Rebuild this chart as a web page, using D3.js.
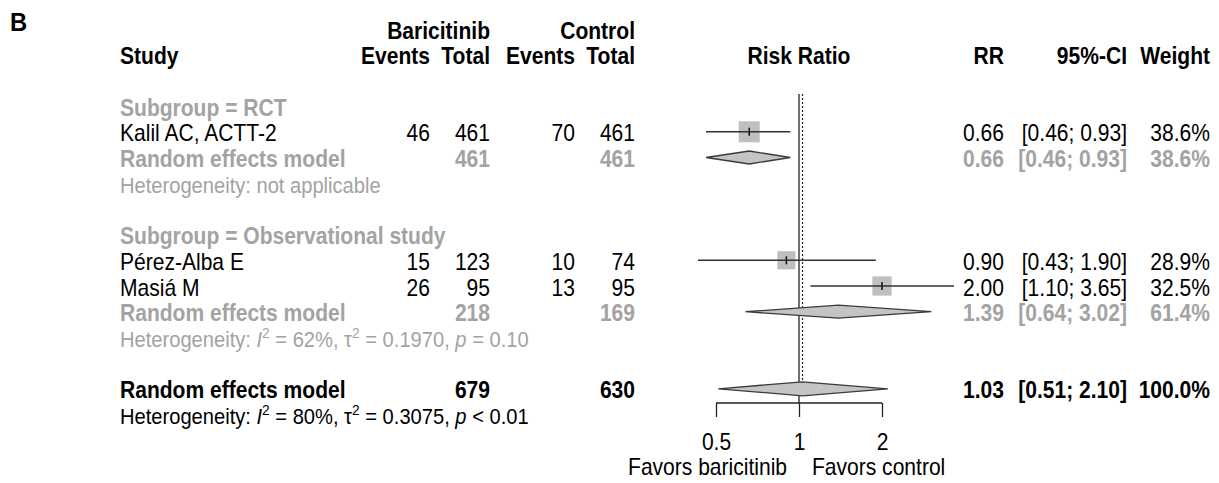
<!DOCTYPE html>
<html>
<head>
<meta charset="utf-8">
<script src="https://cdn.jsdelivr.net/npm/d3@7"></script>
<style>
  body { margin: 0; background: #fff; }
  svg { display: block; font-family: "Liberation Sans", Arial, sans-serif; }
</style>
</head>
<body>
<svg></svg>
<script>
const width = 1219;
const height = 483;

// study level data
const studies = ["Kalil AC, ACTT-2", "Pérez-Alba E", "Masiá M"];
const studyRow = [4, 9, 10];
const eventsBari = [46, 15, 26];
const totalBari = [461, 123, 95];
const eventsCtrl = [70, 10, 13];
const totalCtrl = [461, 74, 95];
const rr = [0.66, 0.90, 2.00];
const lower = [0.46, 0.43, 1.10];
const upper = [0.93, 1.90, 3.65];
const weight = [38.6, 28.9, 32.5];

// pooled estimates (two subgroups + overall)
const poolLabel = ["Random effects model", "Random effects model", "Random effects model"];
const poolRow = [5, 11, 14];
const poolTotalBari = [461, 218, 679];
const poolTotalCtrl = [461, 169, 630];
const poolRR = [0.66, 1.39, 1.03];
const poolLower = [0.46, 0.64, 0.51];
const poolUpper = [0.93, 3.02, 2.10];
const poolWeight = [38.6, 61.4, 100.0];
const poolOverall = [false, false, true];

const subgroups = ["Subgroup = RCT", "Subgroup = Observational study"];
const subgroupRow = [3, 8];

// heterogeneity
const hetRow = [6, 12, 15];
const hetI2 = [null, "62%", "80%"];
const hetTau2 = [null, "0.1970", "0.3075"];
const hetP = [null, "= 0.10", "< 0.01"];

const axisTicks = [0.5, 1, 2];

const grey = "#a3a3a3";
const fs = 23;
const squeeze = 0.915;   // the original text is a bit narrow

const svg = d3.select('svg').attr('width', width).attr('height', height);

const x = d3.scaleLog().domain([0.5, 2]).range([716, 882]);
const rowY = d3.scaleLinear().domain([0, 15]).range([29, 29 + 15 * 25.7]);
const base = i => rowY(i) + 9.5;

const f2 = d3.format(".2f");
const f1 = d3.format(".1f");

const col = { study: 120, evB: 430, totB: 490, evC: 575, totC: 635, rr: 1004, ci: 1127, w: 1210 };

function txt(xp, y, s, opts = {}) {
    return svg.append("text")
        .attr("transform", `translate(${xp},${y}) scale(${squeeze},1)`)
        .attr("text-anchor", opts.anchor || "start")
        .attr("font-size", opts.size || fs)
        .attr("font-weight", opts.bold ? "bold" : "normal")
        .attr("fill", opts.color || "#000")
        .text(s);
}

// panel letter
txt(10, 31, "B", { bold: true, size: 26 });

// headers
txt(col.totB, base(0), "Baricitinib", { bold: true, anchor: "end" });
txt(col.totC, base(0), "Control", { bold: true, anchor: "end" });
txt(col.study, base(1), "Study", { bold: true });
txt(col.evB, base(1), "Events", { bold: true, anchor: "end" });
txt(col.totB, base(1), "Total", { bold: true, anchor: "end" });
txt(col.evC, base(1), "Events", { bold: true, anchor: "end" });
txt(col.totC, base(1), "Total", { bold: true, anchor: "end" });
txt(x(1), base(1), "Risk Ratio", { bold: true, anchor: "middle" });
txt(col.rr, base(1), "RR", { bold: true, anchor: "end" });
txt(col.ci, base(1), "95%-CI", { bold: true, anchor: "end" });
txt(col.w, base(1), "Weight", { bold: true, anchor: "end" });

// subgroup labels
subgroups.forEach((s, i) => txt(col.study, base(subgroupRow[i]), s, { bold: true, color: grey }));

// reference lines: no effect (solid) and overall estimate (dotted)
const topY = 94;
svg.append("line")
    .attr("x1", x(1)).attr("x2", x(1))
    .attr("y1", topY).attr("y2", 403)
    .attr("stroke", "#222").attr("stroke-width", 1.3);
svg.append("line")
    .attr("x1", x(poolRR[2])).attr("x2", x(poolRR[2]))
    .attr("y1", topY).attr("y2", rowY(poolRow[2]) - 6)
    .attr("stroke", "#222").attr("stroke-width", 1.2)
    .attr("stroke-dasharray", "2,2");

// study rows
studies.forEach((s, i) => {
    const y = rowY(studyRow[i]);
    const b = base(studyRow[i]);
    txt(col.study, b, s);
    txt(col.evB, b, eventsBari[i], { anchor: "end" });
    txt(col.totB, b, totalBari[i], { anchor: "end" });
    txt(col.evC, b, eventsCtrl[i], { anchor: "end" });
    txt(col.totC, b, totalCtrl[i], { anchor: "end" });
    txt(col.rr, b, f2(rr[i]), { anchor: "end" });
    txt(col.ci, b, "[" + f2(lower[i]) + "; " + f2(upper[i]) + "]", { anchor: "end" });
    txt(col.w, b, f1(weight[i]) + "%", { anchor: "end" });

    const sz = 3.38 * Math.sqrt(weight[i]);
    svg.append("rect")
        .attr("x", x(rr[i]) - sz / 2).attr("y", y - sz / 2)
        .attr("width", sz).attr("height", sz)
        .attr("fill", "#bfbfbf");
    svg.append("line")
        .attr("x1", x(lower[i])).attr("x2", x(upper[i]))
        .attr("y1", y).attr("y2", y)
        .attr("stroke", "#333").attr("stroke-width", 1.5);
    svg.append("line")
        .attr("x1", x(rr[i])).attr("x2", x(rr[i]))
        .attr("y1", y - 4).attr("y2", y + 4)
        .attr("stroke", "#111").attr("stroke-width", 1.5);
});

// pooled rows
poolLabel.forEach((s, i) => {
    const y = rowY(poolRow[i]);
    const b = base(poolRow[i]);
    const c = poolOverall[i] ? "#000" : grey;
    txt(col.study, b, s, { bold: true, color: c });
    txt(col.totB, b, poolTotalBari[i], { bold: true, anchor: "end", color: c });
    txt(col.totC, b, poolTotalCtrl[i], { bold: true, anchor: "end", color: c });
    txt(col.rr, b, f2(poolRR[i]), { bold: true, anchor: "end", color: c });
    txt(col.ci, b, "[" + f2(poolLower[i]) + "; " + f2(poolUpper[i]) + "]", { bold: true, anchor: "end", color: c });
    txt(col.w, b, f1(poolWeight[i]) + "%", { bold: true, anchor: "end", color: c });

    const h = poolOverall[i] ? 7 : 6.5;
    const pts = [[x(poolLower[i]), y], [x(poolRR[i]), y - h], [x(poolUpper[i]), y], [x(poolRR[i]), y + h]];
    svg.append("path")
        .attr("d", d3.line()(pts) + "Z")
        .attr("fill", "#c4c4c4")
        .attr("stroke", "#3a3a3a").attr("stroke-width", 1.3);
});

// heterogeneity lines
hetRow.forEach((r, i) => {
    const c = i === 2 ? "#000" : grey;
    const t = svg.append("text")
        .attr("transform", `translate(${col.study},${base(r)}) scale(${squeeze},1)`)
        .attr("font-size", 22).attr("fill", c);
    if (hetI2[i] === null) {
        t.text("Heterogeneity: not applicable");
        return;
    }
    t.append("tspan").text("Heterogeneity: ");
    t.append("tspan").attr("font-style", "italic").text("I");
    t.append("tspan").attr("font-size", 15).attr("dy", -9).text("2");
    t.append("tspan").attr("dy", 9).text(" = " + hetI2[i] + ", τ");
    t.append("tspan").attr("font-size", 15).attr("dy", -9).text("2");
    t.append("tspan").attr("dy", 9).text(" = " + hetTau2[i] + ", ");
    t.append("tspan").attr("font-style", "italic").text("p");
    t.append("tspan").text(" " + hetP[i]);
});

// axis
const axisY = 403;
const axis = d3.axisBottom(x)
    .tickValues(axisTicks)
    .tickFormat(d => d)
    .tickSize(14)
    .tickPadding(17);
const ag = svg.append("g")
    .attr("transform", `translate(0,${axisY})`)
    .call(axis);
ag.select(".domain").attr("d", `M${x(0.5)},0H${x(2)}`).attr("stroke", "#222").attr("stroke-width", 1.3);
ag.selectAll(".tick line").attr("stroke", "#222").attr("stroke-width", 1.3);
ag.selectAll(".tick text")
    .attr("font-size", fs).attr("font-family", "Liberation Sans, Arial, sans-serif")
    .attr("transform", `scale(${squeeze},1)`)
    .attr("fill", "#000");

txt(x(1) - 12, 475, "Favors baricitinib", { anchor: "end" });
txt(x(1) + 13, 475, "Favors control");
</script>
</body>
</html>
